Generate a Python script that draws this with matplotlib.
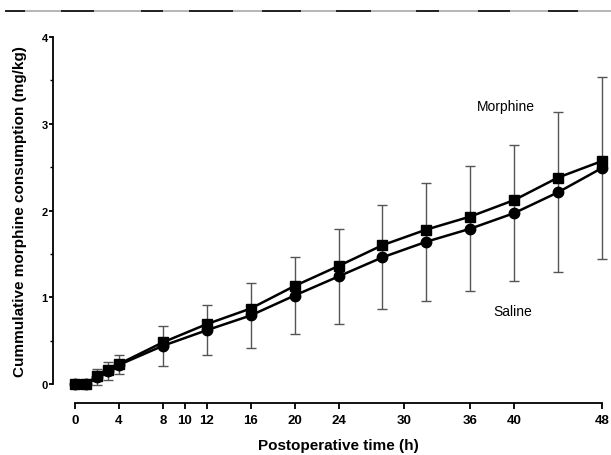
import matplotlib
matplotlib.use("Agg")
import matplotlib.pyplot as plt
from matplotlib.lines import Line2D

plt.rcParams['font.family'] = ['Liberation Sans', 'DejaVu Sans']

time_h = [0, 1, 2, 3, 4, 8, 12, 16, 20, 24, 28, 32, 36, 40, 44, 48]
morphine = [0.0, 0.0, 0.09, 0.16, 0.23, 0.48, 0.69, 0.87, 1.13, 1.36, 1.60, 1.78, 1.93, 2.12, 2.38, 2.57]
saline = [0.0, 0.0, 0.08, 0.15, 0.22, 0.44, 0.62, 0.79, 1.02, 1.24, 1.46, 1.64, 1.79, 1.97, 2.21, 2.49]
saline_sd = [0.0, 0.0, 0.09, 0.10, 0.11, 0.23, 0.29, 0.37, 0.44, 0.545, 0.60, 0.68, 0.72, 0.78, 0.92, 1.05]
xticks = [0, 4, 8, 10, 12, 16, 20, 24, 30, 36, 40, 48]
yticks = [0, 1, 2, 3, 4]
yminor = [0.5, 1.5, 2.5, 3.5]

W, H = 611, 456
fig = plt.figure(figsize=(W / 100, H / 100), dpi=100)
ax = fig.add_axes([75 / W, 1 - 385 / H, (602 - 75) / W, (385 - 38) / H])

ax.errorbar(time_h, saline, yerr=saline_sd, fmt='none', ecolor='#555555',
            elinewidth=1.0, capsize=3.6, capthick=1.0, clip_on=False, zorder=1)
ax.plot(time_h, morphine, color='black', lw=1.8, marker='s', markersize=6.5,
        clip_on=False, zorder=3)
ax.plot(time_h, saline, color='black', lw=1.8, marker='o', markersize=7.5,
        clip_on=False, zorder=3)

ax.set_xlim(0, 48)
ax.set_ylim(0, 4)
ax.set_xticks(xticks)
ax.set_yticks(yticks)
ax.set_yticks(yminor, minor=True)
ax.spines['top'].set_visible(False)
ax.spines['right'].set_visible(False)
ax.spines['left'].set_position(('outward', 15.6))
ax.spines['bottom'].set_position(('outward', 14))
ax.spines['left'].set_bounds(0, 4)
ax.spines['bottom'].set_bounds(0, 48)
for s in ('left', 'bottom'):
    ax.spines[s].set_linewidth(1.3)
ax.tick_params(axis='x', direction='out', length=4, width=1.3, labelsize=9.5, pad=3.5)
ax.tick_params(axis='y', which='major', direction='out', length=3, width=1.3, labelsize=8, pad=1)
ax.tick_params(axis='y', which='minor', direction='out', length=2, width=1.0)
for lab in ax.get_xticklabels() + ax.get_yticklabels():
    lab.set_fontweight('bold')

ax.set_xlabel('Postoperative time (h)', fontsize=11, fontweight='bold', labelpad=9)
ax.set_ylabel('Cummulative morphine consumption (mg/kg)', fontsize=11,
              fontweight='bold', labelpad=10.5)

ax.text(39.2, 3.21, 'Morphine', ha='center', va='center', fontsize=10)
ax.text(39.9, 0.845, 'Saline', ha='center', va='center', fontsize=10)

# scan artifact rule at the top
yfrac = 1 - 12 / H
fig.add_artist(Line2D([6 / W, 611 / W], [yfrac, yfrac], color='#b0b0b0', lw=1.3))
for a, b in [(6, 24), (62, 93), (142, 162), (190, 232), (263, 300), (337, 370),
             (417, 438), (479, 509), (549, 577)]:
    fig.add_artist(Line2D([a / W, b / W], [yfrac, yfrac], color='#222222', lw=1.4))

fig.savefig('out.png', dpi=100)
